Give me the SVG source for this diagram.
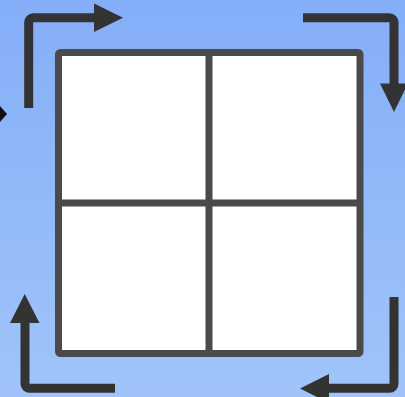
<svg xmlns="http://www.w3.org/2000/svg" width="405" height="397" viewBox="0 0 405 397">
  <defs>
    <linearGradient id="bg" x1="0" y1="0" x2="0" y2="1">
      <stop offset="0" stop-color="#84aef8"/>
      <stop offset="1" stop-color="#a0c4fa"/>
    </linearGradient>
    <style>
      .arrow { fill: none; stroke: #333333; stroke-width: 9; }
      .head { fill: #333333; }
      .grid { fill: #ffffff; stroke: #4a4a4a; stroke-width: 7; }
      .div { stroke: #4a4a4a; stroke-width: 7; }
    </style>
  </defs>
  <rect x="0" y="0" width="405" height="397" fill="url(#bg)"/>
  <polygon points="0,106 7,114 0,122" fill="#111111"/>
  <g id="grid">
    <rect class="grid" x="58.5" y="52.5" width="301.5" height="301" rx="2"/>
    <line class="div" x1="209" y1="52.5" x2="209" y2="353.5"/>
    <line class="div" x1="58.5" y1="203" x2="360" y2="203"/>
  </g>
  <g id="connectors">
    <path class="arrow" d="M28.7,108 V22.3 A4.5,4.5 0 0 1 33.2,17.8 H96"/>
    <polygon class="head" points="94,3.5 123,17.8 94,32"/>
    <path class="arrow" d="M303,17.8 H389.5 A4.5,4.5 0 0 1 394,22.3 V86"/>
    <polygon class="head" points="380,83.5 408,83.5 394,112"/>
    <path class="arrow" d="M394,297 V383.8 A4.5,4.5 0 0 1 389.5,388.3 H327"/>
    <polygon class="head" points="329,374 329,403 300,388.5"/>
    <path class="arrow" d="M115,388.3 H29.5 A4.5,4.5 0 0 1 25,383.8 V321"/>
    <polygon class="head" points="10,323 39.5,323 24.7,294"/>
  </g>
</svg>
